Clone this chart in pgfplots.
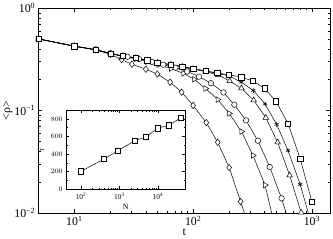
\documentclass[border=0pt]{standalone}
\usepackage{fontspec}
\setmainfont{Liberation Serif}
\usepackage{pgfplots}
\pgfplotsset{compat=1.18}
\begin{document}
\begin{tikzpicture}
\begin{axis}[
  name=main, at={(0,0)}, anchor=south west,
  scale only axis, width=296pt, height=208pt,
  xmode=log, ymode=log,
  xmin=5, xmax=1420, ymin=0.01, ymax=1,
  xtick={10,100,1000},
  xticklabels={10\textsuperscript{1},10\textsuperscript{2},10\textsuperscript{3}},
  ytick={0.01,0.1,1},
  yticklabels={10\textsuperscript{−2},10\textsuperscript{−1},10\textsuperscript{0}},
  tick pos=both, ticklabel pos=left,
  major tick length=4pt, minor tick length=2.2pt,
  every tick/.style={black, line width=0.5pt},
  axis line style={line width=0.8pt},
  tick label style={font=\fontsize{12}{14}\selectfont},
  label style={font=\fontsize{12}{14}\selectfont},
  xlabel={t}, ylabel={<ρ>},
  xlabel shift=-4pt, ylabel shift=-5pt,
  every axis plot/.append style={black, line width=0.5pt, mark options={solid, fill=white, line width=0.5pt}},
]
% diamonds
\addplot[mark=diamond*, mark size=3.3pt, mark indices={1,...,15}] coordinates {
(5,0.5)(10,0.425)(15.2,0.39)(20.2,0.353)(25,0.314)(30.5,0.283)(40,0.253)(50,0.227)(64,0.189)(80,0.151)(100,0.112)(129,0.0762)(161,0.0489)(201,0.0277)(251,0.0129)(316,0.0057)};
% right triangles
\addplot[mark=triangle*, mark size=3.3pt, mark options={solid, fill=white, line width=0.5pt, rotate=-90}, mark indices={1,...,17}] coordinates {
(5,0.5)(10,0.425)(15.2,0.392)(20.2,0.36)(25.4,0.338)(33,0.32)(41,0.30)(51,0.28)(65,0.257)(83,0.230)(102,0.202)(127,0.164)(161,0.128)(201,0.0936)(255,0.0624)(319,0.0364)(403,0.0187)(505,0.0062)};
% circles
\addplot[mark=*, mark size=2.8pt, mark indices={1,...,18}] coordinates {
(5,0.5)(10,0.425)(15.2,0.392)(20.2,0.36)(28,0.335)(35,0.318)(45,0.298)(56,0.28)(71,0.262)(89,0.241)(112,0.214)(141,0.185)(180,0.150)(222,0.114)(279,0.0801)(351,0.0507)(441,0.0281)(555,0.0139)(700,0.0058)};
% triangles
\addplot[mark=triangle*, mark size=3.3pt] coordinates {
(5,0.5)(10,0.425)(15.2,0.392)(20.2,0.361)(25.4,0.34)(33,0.327)(41,0.308)(50,0.293)(65,0.28)(81,0.267)(100,0.254)(127,0.24)(163,0.222)(203,0.194)(255,0.165)(323,0.126)(409,0.0851)(514,0.0489)(649,0.0233)(811,0.0101)};
% stars
\addplot[mark=asterisk, mark size=2.5pt, mark indices={1,...,20}] coordinates {
(5,0.5)(10,0.425)(15.2,0.392)(20.2,0.361)(25.4,0.34)(33,0.327)(41,0.308)(50,0.293)(65,0.28)(81,0.268)(100,0.255)(127,0.242)(160,0.230)(202,0.217)(254,0.189)(321,0.157)(403,0.116)(504,0.0733)(629,0.0406)(796,0.019)(1000,0.0075)};
% squares
\addplot[mark=square*, mark size=2.7pt] coordinates {
(5,0.500)(10,0.425)(15.2,0.392)(20.2,0.361)(25.4,0.340)(33,0.328)(41,0.309)(50,0.294)(65,0.281)(81,0.269)(100,0.257)(127,0.244)(160,0.233)(200,0.223)(254,0.212)(319,0.194)(399,0.165)(498,0.123)(629,0.0745)(796,0.0338)(1000,0.0128)};
\end{axis}
\begin{axis}[
  at={(28pt,24pt)}, anchor=south west,
  scale only axis, width=121pt, height=80.5pt,
  axis background/.style={fill=white},
  xmode=log, xmin=41, xmax=52000, ymin=0, ymax=900,
  xtick={100,1000,10000},
  xticklabels={10\textsuperscript{2},10\textsuperscript{3},10\textsuperscript{4}},
  ytick={0,200,400,600,800}, minor y tick num=1,
  tick pos=both, ticklabel pos=left,
  major tick length=3pt, minor tick length=1.8pt,
  every tick/.style={black, line width=0.5pt},
  axis line style={line width=0.8pt},
  tick label style={font=\fontsize{7.5}{9}\selectfont},
  label style={font=\fontsize{8}{9}\selectfont},
  xlabel={N}, ylabel={τ},
  xlabel shift=-2pt,
]
\addplot[black, line width=0.5pt, mark=square*, mark size=2.6pt, mark options={fill=white, line width=0.5pt}] coordinates {
(100,205)(400,343)(900,436)(2500,551)(4900,596)(10000,693)(19600,727)(40000,813)};
\end{axis}
\path (299pt,0) (0,0);
\end{tikzpicture}
\end{document}
